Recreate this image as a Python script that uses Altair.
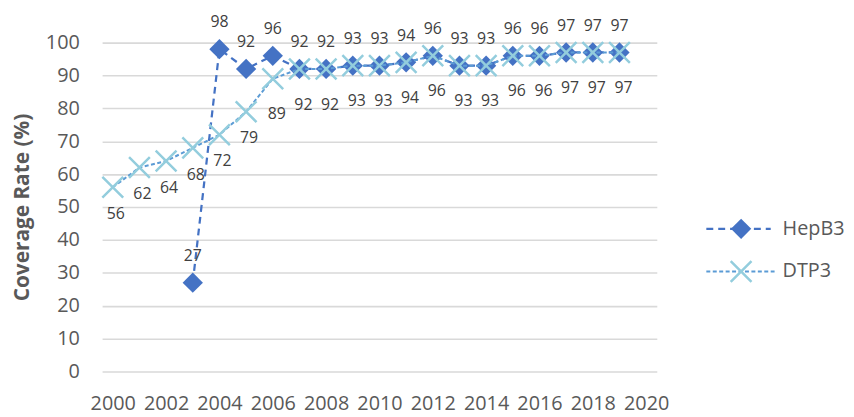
import altair as alt
import pandas as pd

# ---- data ----
hep_years = [2003, 2004, 2005, 2006, 2007, 2008, 2009, 2010, 2011, 2012,
             2013, 2014, 2015, 2016, 2017, 2018, 2019]
hep_values = [27, 98, 92, 96, 92, 92, 93, 93, 94, 96, 93, 93, 96, 96, 97, 97, 97]

dtp_years = [2000, 2001, 2002, 2003, 2004, 2005, 2006, 2007, 2008, 2009,
             2010, 2011, 2012, 2013, 2014, 2015, 2016, 2017, 2018, 2019]
dtp_values = [56, 62, 64, 68, 72, 79, 89, 92, 92, 93, 93, 94, 96, 93, 93,
              96, 96, 97, 97, 97]

x_ticks = [2000, 2002, 2004, 2006, 2008, 2010, 2012, 2014, 2016, 2018, 2020]
y_ticks = [0, 10, 20, 30, 40, 50, 60, 70, 80, 90, 100]
series_names = ["HepB3", "DTP3"]

HEP_COLOR = "#4472C4"
DTP_LINE = "#5B9BD5"
DTP_MARK = "#93CDDD"
FONT = "Open Sans"

hep = pd.DataFrame({"year": hep_years, "value": hep_values, "series": "HepB3"})
dtp = pd.DataFrame({"year": dtp_years, "value": dtp_values, "series": "DTP3"})
legend_df = pd.DataFrame({"series": series_names})

xscale = alt.Scale(domain=[1999.6, 2020.4], nice=False, zero=False)
yscale = alt.Scale(domain=[0, 100], nice=False)

x_axis = alt.Axis(values=x_ticks, format="d", grid=False, ticks=False, tickSize=0,
                  domain=False, labelPadding=22, labelFontSize=20, labelFont=FONT,
                  labelColor="#595959", labelFlush=False, labelOverlap=False)
y_axis = alt.Axis(values=y_ticks, grid=True, gridColor="#D9D9D9", gridWidth=1.6,
                  ticks=False, tickSize=0, domain=False, labelPadding=23,
                  labelFontSize=20, labelFont=FONT, labelColor="#595959",
                  labelFlush=False, titleFont=FONT,
                  titleFontSize=21, titleFontWeight="bold", titleColor="#595959",
                  titleX=-80, titleY=166, titleAngle=270, titleBaseline="middle",
                  titleAlign="center")

X = alt.X("year:Q", scale=xscale, axis=x_axis, title=None)
Y = alt.Y("value:Q", scale=yscale, axis=y_axis, title="Coverage Rate (%)")

hep_line = alt.Chart(hep).mark_line(color=HEP_COLOR, strokeWidth=2.25,
                                    strokeDash=[7, 5]).encode(x=X, y=Y)
hep_pts = alt.Chart(hep).mark_point(shape="diamond", filled=True, size=420,
                                    color=HEP_COLOR, opacity=1).encode(x=X, y=Y)
dtp_line = alt.Chart(dtp).mark_line(color=DTP_LINE, strokeWidth=2,
                                    strokeDash=[4, 2.5]).encode(x=X, y=Y)
dtp_pts = alt.Chart(dtp).mark_point(shape="M-1,-1L1,1M-1,1L1,-1", filled=False,
                                    size=441, stroke=DTP_MARK, strokeWidth=2.5,
                                    opacity=1).encode(x=X, y=Y)

txt = dict(font=FONT, fontSize=16, color="#404040", baseline="middle")
hep_lab = alt.Chart(hep).mark_text(dy=-27, **txt).encode(
    x=X, y=Y, text=alt.Text("value:Q", format="d"))
dtp_lab_a = alt.Chart(dtp).transform_filter("datum.year <= 2005").mark_text(
    dy=27, dx=3, **txt).encode(x=X, y=Y, text=alt.Text("value:Q", format="d"))
dtp_lab_b = alt.Chart(dtp).transform_filter("datum.year >= 2006").mark_text(
    dy=36, dx=4, **txt).encode(x=X, y=Y, text=alt.Text("value:Q", format="d"))

data_layers = alt.layer(hep_line, hep_pts, dtp_line, dtp_pts,
                        hep_lab, dtp_lab_a, dtp_lab_b)

# ---- legend (drawn to the right of the plot) ----
lx = alt.Scale(domain=[0, 1], range=[610, 675])
ly = alt.Scale(type="point", domain=series_names, range=[188, 231], padding=0)
LY = alt.Y("series:N", scale=ly, axis=None)

leg_hep_rule = alt.Chart(legend_df).transform_filter("datum.series == 'HepB3'").mark_rule(
    color=HEP_COLOR, strokeWidth=2.25, strokeDash=[7, 5]).encode(
    x=alt.X(datum=0, scale=lx, axis=None), x2=alt.X2(datum=1), y=LY)
leg_dtp_rule = alt.Chart(legend_df).transform_filter("datum.series == 'DTP3'").mark_rule(
    color=DTP_LINE, strokeWidth=2, strokeDash=[4, 2.5]).encode(
    x=alt.X(datum=0, scale=lx, axis=None), x2=alt.X2(datum=1.06), y=LY)
leg_hep_pt = alt.Chart(legend_df).transform_filter("datum.series == 'HepB3'").mark_point(
    shape="diamond", filled=True, size=420, color=HEP_COLOR, opacity=1).encode(
    x=alt.X(datum=0.54, scale=lx, axis=None), y=LY)
leg_dtp_pt = alt.Chart(legend_df).transform_filter("datum.series == 'DTP3'").mark_point(
    shape="M-1,-1L1,1M-1,1L1,-1", filled=False, size=441, stroke=DTP_MARK,
    strokeWidth=2.5, opacity=1).encode(
    x=alt.X(datum=0.54, scale=lx, axis=None), y=LY)
leg_txt = alt.Chart(legend_df).mark_text(
    align="left", baseline="middle", dx=12, font=FONT, fontSize=20,
    color="#595959").encode(
    x=alt.X(datum=1, scale=lx, axis=None), y=LY, text="series:N")

legend_layers = alt.layer(leg_hep_rule, leg_dtp_rule, leg_hep_pt, leg_dtp_pt, leg_txt)

chart = alt.layer(data_layers, legend_layers).resolve_scale(
    x="independent", y="independent"
).properties(
    width=560, height=332,
    padding={"left": 95, "top": 33, "right": 191, "bottom": 44},
    autosize=alt.AutoSizeParams(type="none"),
).configure_view(strokeWidth=0)

chart.save("out.html", embed_options={"renderer": "svg", "actions": False})
